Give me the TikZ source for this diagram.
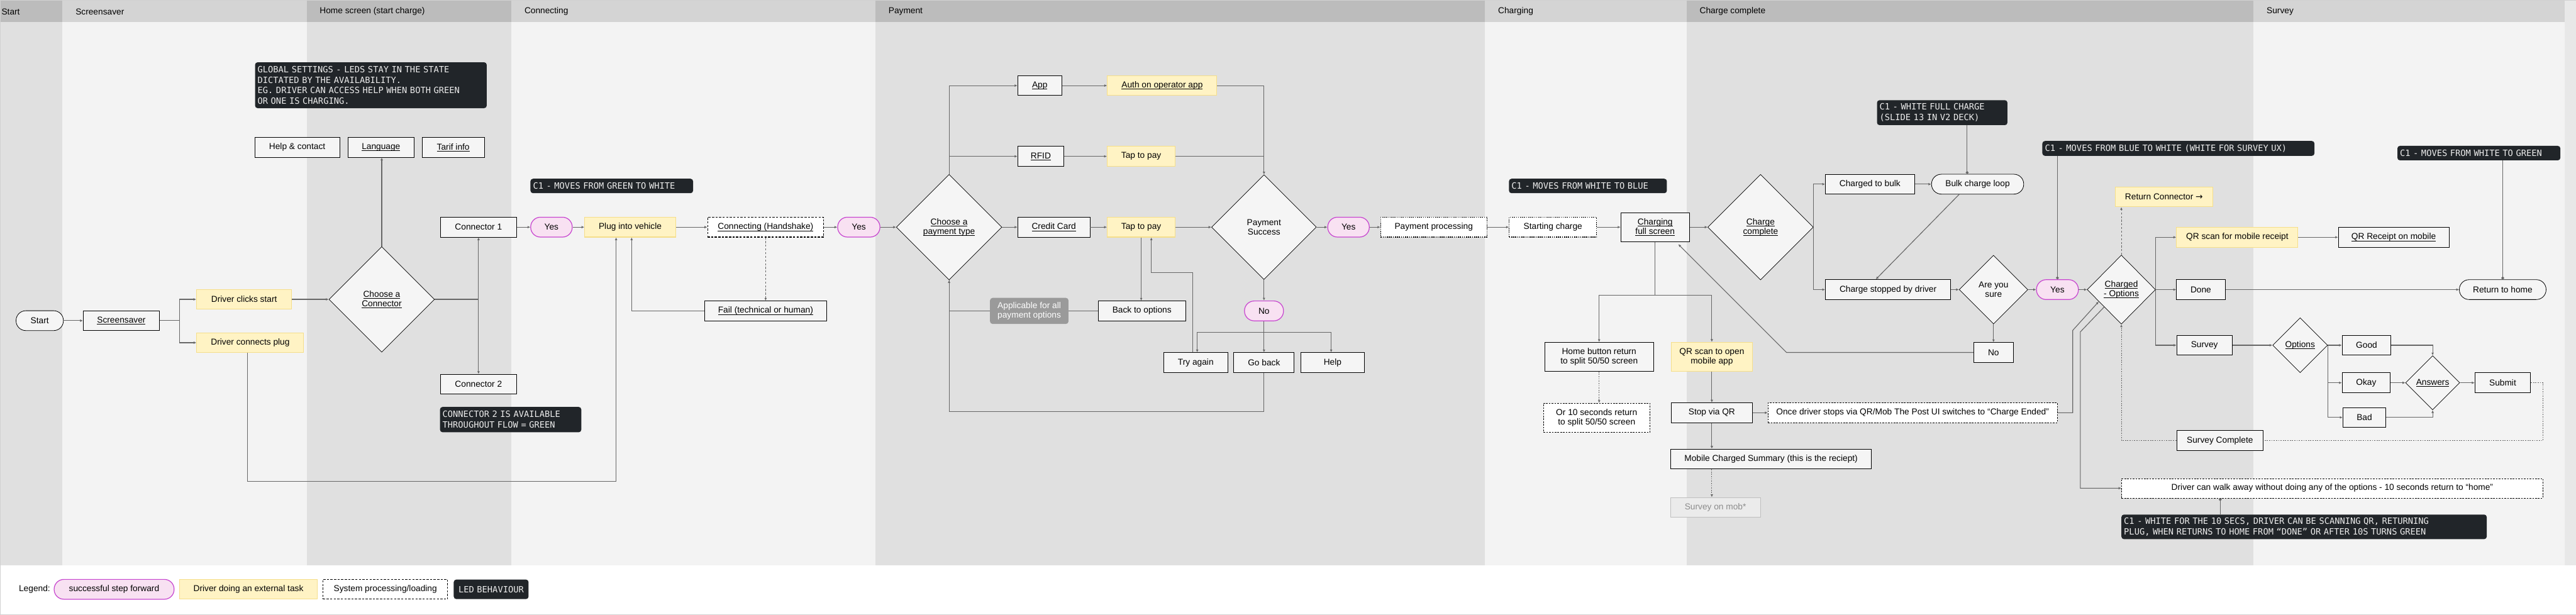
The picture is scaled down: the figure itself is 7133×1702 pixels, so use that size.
\documentclass[tikz,border=0pt]{standalone}
\usepackage{fontspec}
\setmainfont{Liberation Sans}
\newfontfamily\ledfont{DejaVu Sans Mono}
\newfontfamily\symfont{DejaVu Sans}
\usetikzlibrary{arrows.meta,shapes.geometric}
\definecolor{hdrdk}{HTML}{BCBCBC}
\definecolor{hdrlt}{HTML}{D4D4D4}
\definecolor{lanedk}{HTML}{E0E0E0}
\definecolor{lanelt}{HTML}{F3F3F3}
\definecolor{laneend}{HTML}{E8E8E8}
\definecolor{boxfill}{HTML}{F5F5F5}
\definecolor{taskfill}{HTML}{FFF3C4}
\definecolor{taskline}{HTML}{F5DE8A}
\definecolor{yesfill}{HTML}{F8E1F2}
\definecolor{yesline}{HTML}{C745CF}
\definecolor{ledfill}{HTML}{212529}
\definecolor{ledtext}{HTML}{EDEDED}
\definecolor{flowgray}{HTML}{666666}
\definecolor{tagfill}{HTML}{9A9A9A}
\definecolor{survfill}{HTML}{EBEBEB}
\newsavebox\lnkbox
\newcommand\lnk[1]{\sbox\lnkbox{#1}\rlap{\rule[-1.2pt]{\wd\lnkbox}{.3pt}}\usebox\lnkbox}
\begin{document}
\begin{tikzpicture}[x=.01cm,y=-.01cm,>={Latex[length=2.2pt,width=2pt]},
  every node/.style={font=\fontsize{6.8}{7.5}\selectfont},
  box/.style={draw,line width=.4pt,fill=boxfill,minimum height=.55cm,inner sep=1pt,align=center},
  task/.style={box,draw=taskline,line width=.5pt,fill=taskfill},
  yes/.style={box,draw=yesline,line width=.6pt,fill=yesfill,rounded corners=.27cm},
  pill/.style={box,rounded corners=.27cm},
  sys/.style={box,fill=white,line width=.5pt,dash pattern=on 1.7pt off 1.1pt},
  sysdot/.style={box,fill=white,line width=.5pt,dash pattern=on .8pt off .8pt},
  soft/.style={box,fill=white,line width=.3pt,dash pattern=on 1.3pt off .9pt},
  choice/.style={diamond,draw,line width=.35pt,fill=boxfill,inner sep=0pt,align=center},
  led/.style={fill=ledfill,text=ledtext,rounded corners=2pt,inner xsep=.07cm,inner ysep=.05cm,align=left,font=\ledfont\fontsize{6.8}{8.3}\selectfont},
  tag/.style={fill=tagfill,text=white,rounded corners=2pt,align=center},
  lanehead/.style={anchor=west},
  flow/.style={draw=flowgray,line width=.55pt},
  arr/.style={flow,->},
  dasharr/.style={arr,dash pattern=on 1.6pt off 1.3pt},
  dotarr/.style={arr,dash pattern=on .9pt off .9pt},
  dotline/.style={flow,dash pattern=on .9pt off .9pt},
  tie/.style={flow,-{Circle[length=2.2pt]}}]
\useasboundingbox(0,0)rectangle(7133,1702);
\fill[white](0,0)rectangle(7133,1702);
\foreach \a/\b/\hc/\bc in {0/173/hdrdk/lanedk,173/849/hdrlt/lanelt,849/1416/hdrdk/lanedk,1416/2424/hdrlt/lanelt,2424/4112/hdrdk/lanedk,4112/4670/hdrlt/lanelt,4670/6240/hdrdk/lanedk,6240/7102/hdrlt/lanelt}{\fill[\hc](\a,0)rectangle(\b,61);\fill[\bc](\a,61)rectangle(\b,1565);}
\fill[laneend](7102,0)rectangle(7133,1565);
\foreach \a/\lbl[count=\i] in {-8/Start,197/Screensaver,873/Home screen (start charge),1440/Connecting,2448/Payment,4136/Charging,4694/Charge complete,6264/Survey}\node[lanehead](lane\i)at(\a,32){\lbl};
\draw[black!18,line width=.3pt](0,0)rectangle(7133,1702);
\node[pill,minimum width=1.31cm](start)at(110,888){Start};
\node[box,minimum width=2.11cm](scrsv)at(336,888){\lnk{Screensaver}};
\node[task,minimum width=2.63cm](clicks)at(676,829){Driver clicks start};
\node[task,minimum width=2.96cm](plug)at(693,949){Driver connects plug};
\node[choice,minimum size=2.92cm](pickconn)at(1057,829){\lnk{Choose a}\\\lnk{Connector}};
\node[box,minimum width=2.35cm](help)at(823,408){Help \& contact};
\node[box,minimum width=1.83cm](lang)at(1055,408){\lnk{Language}};
\node[box,minimum width=1.73cm](tarif)at(1255,408){\lnk{Tarif info}};
\node[led,text width=6.27cm,minimum height=1.27cm](ledglobal)at(1027,236){GLOBAL SETTINGS - LEDS STAY IN THE STATE\\DICTATED BY THE AVAILABILITY.\\EG. DRIVER CAN ACCESS HELP WHEN BOTH GREEN\\OR ONE IS CHARGING.};
\node[box,minimum width=2.11cm](conn1)at(1325,629){Connector 1};
\node[box,minimum width=2.11cm](conn2)at(1325,1064){Connector 2};
\node[led,text width=3.77cm,minimum height=.7cm](ledconn)at(1414,1162){CONNECTOR 2 IS AVAILABLE\\THROUGHOUT FLOW = GREEN};
\node[yes,minimum width=1.15cm](yes1)at(1527,629){Yes};
\node[task,minimum width=2.52cm](plugin)at(1745,629){Plug into vehicle};
\node[sys,minimum width=3.21cm](handshake)at(2120,629){\lnk{Connecting (Handshake)}};
\node[led,text width=4.36cm,minimum height=.4cm](ledwhite)at(1694,515){C1 - MOVES FROM GREEN TO WHITE};
\node[box,minimum width=3.39cm](fail)at(2120,861){\lnk{Fail (technical or human)}};
\node[yes,minimum width=1.17cm](yes2)at(2378,629){Yes};
\node[choice,minimum size=2.92cm](pickpay)at(2628,629){\lnk{Choose a}\\\lnk{payment type}};
\node[box,minimum width=1.22cm](app)at(2879,237){\lnk{App}};
\node[task,minimum width=3.03cm](auth)at(3218,237){\lnk{Auth on operator app}};
\node[box,minimum width=1.28cm](rfid)at(2882,433){\lnk{RFID}};
\node[task,minimum width=1.88cm](taprfid)at(3160,433){Tap to pay};
\node[box,minimum width=2cm](card)at(2918,629){\lnk{Credit Card}};
\node[task,minimum width=1.88cm](tapcard)at(3160,629){Tap to pay};
\node[choice,minimum size=2.9cm](paysucc)at(3500,629){Payment\\Success};
\node[box,minimum width=2.43cm](backopt)at(3162,861){Back to options};
\node[yes,minimum width=1.08cm](no1)at(3500,861){No};
\node[box,minimum width=1.77cm](again)at(3311,1004){Try again};
\node[box,minimum width=1.67cm](goback)at(3500,1004){Go back};
\node[box,minimum width=1.76cm](help2)at(3690,1004){Help};
\node[yes,minimum width=1.15cm](yes3)at(3734,629){Yes};
\node[sysdot,minimum width=2.94cm](payproc)at(3970,629){Payment processing};
\node[sysdot,minimum width=2.42cm](startchg)at(4300,629){Starting charge};
\node[led,text width=4.23cm,minimum height=.4cm](ledblue)at(4397,515){C1 - MOVES FROM WHITE TO BLUE};
\node[box,minimum width=1.9cm,minimum height=.81cm](chgfull)at(4583,629){\lnk{Charging}\\\lnk{full screen}};
\node[choice,minimum size=2.92cm](chgcomp)at(4875,629){\lnk{Charge}\\\lnk{complete}};
\node[box,minimum width=3cm,minimum height=.8cm](homebtn)at(4428,988){Home button return\\to split 50/50 screen};
\node[soft,minimum width=2.94cm,minimum height=.81cm](tensec)at(4421,1157){Or 10 seconds return\\to split 50/50 screen};
\node[task,minimum width=2.24cm,minimum height=.8cm](qrapp)at(4740,988){QR scan to open\\mobile app};
\node[box,minimum width=2.24cm](stopqr)at(4740,1143){Stop via QR};
\node[box,minimum width=5.56cm](summary)at(4904,1271){Mobile Charged Summary (this is the reciept)};
\node[box,draw=black!25,fill=survfill,text=black!45,minimum width=2.49cm](survmob)at(4750,1405){Survey on mob*};
\node[soft,minimum width=8.01cm](ended)at(5296,1143){Once driver stops via QR/Mob The Post UI switches to “Charge Ended”};
\node[box,minimum width=2.47cm](bulk)at(5178,510){Charged to bulk};
\node[pill,minimum width=2.55cm](loop)at(5476,510){Bulk charge loop};
\node[led,text width=3.47cm,minimum height=.69cm](ledfull)at(5378,312){C1 - WHITE FULL CHARGE\\(SLIDE 13 IN V2 DECK)};
\node[box,minimum width=3.47cm](stopped)at(5228,802){Charge stopped by driver};
\node[choice,minimum size=1.9cm](sure)at(5520,802){Are you\\sure};
\node[yes,minimum width=1.16cm](yes4)at(5697,802){Yes};
\node[led,text width=7.39cm,minimum height=.41cm](ledsurvey)at(6032,411){C1 - MOVES FROM BLUE TO WHITE (WHITE FOR SURVEY UX)};
\node[box,minimum width=1.09cm](no2)at(5520,976){No};
\node[choice,minimum width=1.89cm,minimum height=1.91cm](chgopt)at(5874,802){\lnk{Charged}\\\lnk{- Options}};
\node[task,minimum width=2.69cm](retconn)at(5992,545){Return Connector {\symfont →}};
\node[task,minimum width=3.36cm](qrrec)at(6195,657){QR scan for mobile receipt};
\node[box,minimum width=3.06cm](qrmob)at(6628,657){\lnk{QR Receipt on mobile}};
\node[box,minimum width=1.35cm](done)at(6094,802){Done};
\node[pill,minimum width=2.4cm](rethome)at(6930,802){Return to home};
\node[led,text width=4.37cm,minimum height=.4cm](ledgreen)at(6864,424){C1 - MOVES FROM WHITE TO GREEN};
\node[box,minimum width=1.53cm](survey)at(6104,956){Survey};
\node[choice,minimum size=1.52cm](opts)at(6369,956){\lnk{Options}};
\node[box,minimum width=1.35cm](good)at(6553,956){Good};
\node[box,minimum width=1.33cm](okay)at(6552,1060){Okay};
\node[box,minimum width=1.19cm](bad)at(6547,1156){Bad};
\node[choice,minimum size=1.5cm](answers)at(6736,1060){\lnk{Answers}};
\node[box,minimum width=1.54cm](submit)at(6930,1060){Submit};
\node[box,minimum width=2.4cm](survdone)at(6147,1220){Survey Complete};
\node[soft,minimum width=11.66cm,minimum height=.54cm](walk)at(6458,1352){Driver can walk away without doing any of the options - 10 seconds return to “home”};
\node[led,text width=9.97cm,minimum height=.68cm](ledwalk)at(6380,1459){C1 - WHITE FOR THE 10 SECS, DRIVER CAN BE SCANNING QR, RETURNING\\PLUG, WHEN RETURNS TO HOME FROM “DONE” OR AFTER 10S TURNS GREEN};
\node[anchor=west](legend)at(40,1632){Legend:};
\node[yes,minimum width=3.32cm](legyes)at(316,1632){successful step forward};
\node[task,minimum width=3.81cm](legtask)at(688,1632){Driver doing an external task};
\node[sys,minimum width=3.45cm](legsys)at(1067,1632){System processing/loading};
\node[led,text width=1.93cm,align=center,minimum height=.54cm](legled)at(1360,1632){LED BEHAVIOUR};
\draw[arr](start)--(scrsv);
\coordinate(ssj)at(497,888);
\draw[flow](scrsv)--(ssj);
\draw[arr](ssj)|-(clicks);
\draw[arr](ssj)|-(plug);
\draw[arr](clicks)--(pickconn);
\draw[arr](pickconn.north)--(pickconn.north|-lang.south);
\coordinate(cj)at(1325,829);
\draw[flow](pickconn.east)--(cj);
\draw[arr](cj)--(conn1);
\draw[arr](cj)--(conn2);
\draw[arr](conn1)--(yes1);
\draw[arr](yes1)--(plugin);
\draw[arr](plugin)--(handshake);
\draw[arr](handshake)--(yes2);
\draw[arr](yes2)--(pickpay);
\draw[dasharr](handshake)--(fail);
\draw[arr]([xshift=-.07cm]plug.south)--++(0,356)-|([xshift=-.39cm]plugin.south);
\draw[arr](fail.west)-|([xshift=.04cm]plugin.south);
\draw[arr](pickpay.north)|-(app);
\draw[arr](pickpay.north|-rfid)--(rfid);
\draw[arr](pickpay)--(card);
\draw[arr](app)--(auth);
\draw[arr](rfid)--(taprfid);
\draw[arr](card)--(tapcard);
\draw[arr](auth)-|(paysucc);
\draw[flow](taprfid)--(taprfid-|paysucc);
\draw[arr](tapcard)--(paysucc);
\draw[arr](tapcard)--(tapcard|-backopt.north);
\draw[arr]([xshift=-.08cm]again.north)--++(0,-221)-|([xshift=.28cm]tapcard.south);
\draw[arr](backopt)-|(pickpay);
\draw[arr](paysucc)--(no1);
\coordinate(nj)at(3500,921);
\draw[flow](no1)--(nj);
\draw[arr](nj)-|([xshift=.04cm]again.north);
\draw[arr](nj)--(goback);
\draw[arr](nj)-|([xshift=-.04cm]help2.north);
\draw[flow](goback)--++(0,135)-|(pickpay.south);
\node[tag,minimum width=2.17cm,minimum height=.69cm](applies)at(2850,861){Applicable for all\\payment options};
\draw[arr](paysucc)--(yes3);
\draw[arr](yes3)--(payproc);
\draw[arr](payproc)--(startchg);
\draw[arr](startchg)--(chgfull);
\draw[arr](chgfull)--(chgcomp);
\coordinate(fj)at(4583,818);
\draw[flow](chgfull)--(fj);
\draw[arr](fj)-|(homebtn);
\draw[arr](fj)-|(qrapp);
\draw[dotarr](homebtn)--(homebtn|-tensec.north);
\draw[arr](qrapp)--(stopqr);
\draw[arr](stopqr)--(stopqr|-summary.north);
\draw[dotarr](stopqr|-summary.south)--(stopqr|-survmob.north);
\draw[arr](stopqr)--(ended);
\draw[arr](ended.east)--++(42,0)--++(0,-228)--([shift={(-.15cm,.15cm)}]chgopt.south west);
\draw[arr](no2.west)--++(-518,0)--([xshift=.64cm,yshift=-.06cm]chgfull.south);
\draw[arr](chgcomp.east)|-(bulk);
\draw[arr](chgcomp.east)|-(stopped);
\draw[arr](bulk)--(loop);
\draw[tie]([xshift=.69cm]ledfull.south)--([xshift=.69cm]ledfull.south|-loop.north);
\draw[arr]([xshift=-.51cm]loop.south)--([xshift=-.34cm]stopped.north);
\draw[arr](stopped)--(sure);
\draw[arr](sure)--(yes4);
\draw[arr](yes4)--(chgopt);
\draw[tie](yes4|-ledsurvey.south)--(yes4);
\draw[arr](sure)--(no2);
\draw[dasharr](chgopt)--(chgopt|-retconn.south);
\draw[arr](chgopt)--(done);
\draw[arr](chgopt.east)|-(qrrec);
\draw[arr](chgopt.east)|-(survey);
\draw[arr](qrrec)--(qrmob);
\draw[arr](done)--(rethome);
\draw[tie](rethome|-ledgreen.south)--(rethome);
\draw[arr](chgopt.south west)--++(-66,69)|-(walk);
\draw[tie]([xshift=-2.32cm]ledwalk.north)--([xshift=-2.32cm]ledwalk.north|-walk.south);
\draw[arr](survey)--(opts);
\draw[arr](opts)--(good);
\draw[arr](opts.east)|-(okay);
\draw[arr](opts.east)|-(bad);
\draw[arr](good)-|(answers);
\draw[arr](bad)-|(answers);
\draw[arr](okay)--(answers);
\draw[arr](answers)--(submit);
\draw[dotline](submit.east)--++(34,0)|-(survdone);
\draw[dotarr](survdone)-|(chgopt);
\end{tikzpicture}
\end{document}
